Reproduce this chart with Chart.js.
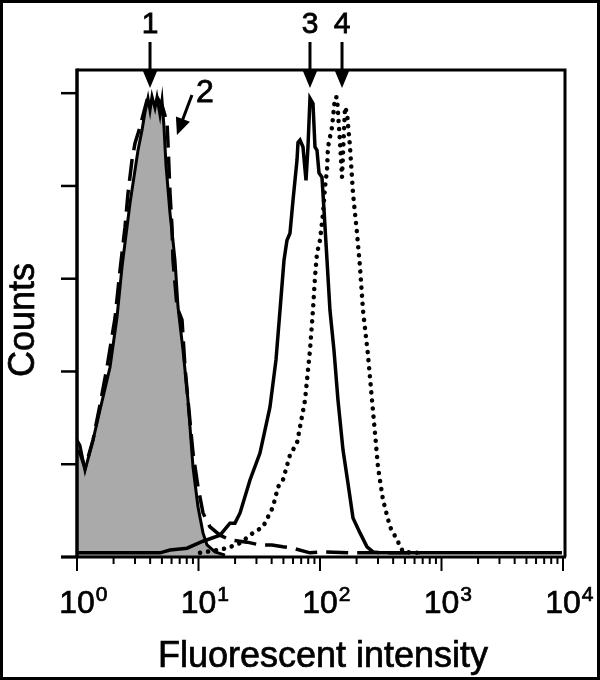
<!DOCTYPE html>
<html>
<head>
<title>Fluorescent intensity histogram</title>
<script src="https://cdn.jsdelivr.net/npm/chart.js"></script>
<style>
  html, body { margin: 0; padding: 0; background: #fff; }
</style>
</head>
<body>
<canvas id="histChart" width="600" height="680"></canvas>
<script>
// histogram traces, x = fluorescent intensity, y = counts (% of max)
const filledX = [1, 1.058, 1.164, 1.354, 1.546, 1.869, 2.134, 2.346, 2.731, 3.178, 3.428, 3.628, 3.84, 3.99, 4.143, 4.385, 4.554, 4.822, 5.007, 5.2, 5.402, 5.828, 6.409, 6.783, 7.456, 8.196, 9.01, 9.905, 10.89, 11.75, 13.67, 16.52];
const filledY = [25.2, 24.1, 18.7, 25.2, 31.7, 40.9, 51.7, 62.5, 76.3, 87.7, 92.0, 95.9, 98.9, 96.3, 99.3, 96.8, 99.1, 95.3, 98.5, 92.7, 84.5, 74.1, 64.0, 53.9, 44.6, 33.8, 19.4, 10.8, 5.2, 2.6, 1.1, 0.4];

const dashedX = [1.039, 1.164, 1.354, 1.546, 1.766, 2.055, 2.259, 2.484, 2.629, 2.836, 3.002, 3.3, 3.768, 4.143, 4.554, 5.007, 5.505, 5.61, 5.828, 6.053, 6.168, 6.653, 7.316, 7.743, 8.196, 9.01, 9.905, 10.89, 12.43, 15.03, 18.16, 25.06, 32.06, 40.27, 49.56, 59.95, 82.7, 105.9, 176.6, 665];
const dashedY = [23.1, 19.2, 25.2, 32.8, 40.9, 51.5, 61.8, 71.1, 78.4, 85.6, 89.2, 92.7, 98.5, 99.1, 99.1, 97.4, 93.7, 89.2, 78.4, 71.1, 64.0, 53.9, 51.1, 40.9, 33.8, 22.4, 15.1, 9.5, 6.5, 4.7, 3.7, 3.2, 2.6, 2.6, 2.2, 1.9, 0.9, 1.1, 0.9, 0.9];

const solidX = [1, 4.822, 5.828, 8.041, 10.89, 15.03, 18.16, 19.95, 21.98, 26.54, 32.06, 38.73, 43.43, 46.86, 50.55, 53.48, 56.61, 59.95, 64.69, 65.92, 68.46, 72.46, 76.71, 79.62, 82.7, 87.55, 90.93, 94.47, 98.12, 103.8, 107.9, 114.2, 120.8, 130.3, 140.6, 154.6, 169.9, 186.9, 213.4, 243.6, 273.0, 311.6, 9800];
const solidY = [0.9, 0.9, 1.5, 1.9, 3.4, 4.7, 7.3, 7.3, 9.5, 16.6, 22.4, 32.3, 42.5, 53.2, 64.0, 68.3, 69.8, 76.9, 85.6, 89.4, 89.9, 88.4, 81.2, 88.4, 98.9, 97.8, 88.4, 87.7, 82.8, 81.9, 74.8, 64.0, 53.2, 44.6, 33.8, 23.1, 15.9, 8.4, 5.2, 2.2, 1.1, 0.9, 0.9];

const dottedX = [10.29, 14.2, 17.17, 21.98, 28.12, 33.95, 41.04, 45.11, 49.56, 56.61, 64.69, 75.27, 82.7, 87.55, 90.93, 94.47, 100, 105.9, 109.9, 114.2, 116.4, 125.6, 132.9, 138.0, 146.2, 151.8, 160.7, 166.9, 176.6, 186.9, 201.7, 213.4, 225.9, 248.4, 267.9, 283.6, 300.1, 330.0, 376.9, 430.3, 482.2, 665.3];
const dottedY = [0.9, 1.5, 1.9, 3.0, 5.2, 6.5, 10.8, 15.1, 16.6, 22.0, 24.6, 33.8, 44.6, 53.2, 60.3, 65.5, 68.3, 74.1, 79.7, 83.4, 88.4, 92.7, 99.1, 99.1, 89.2, 81.9, 97.0, 95.7, 88.4, 78.4, 69.8, 62.5, 53.2, 43.5, 33.8, 26.7, 19.4, 12.3, 6.5, 3.7, 1.1, 0.9];

// axes
const decades = [1, 10, 100, 1000, 10000];
const decadeExponents = ['0', '1', '2', '3', '4'];
const countTicks = [0, 20, 40, 60, 80, 100];

// peak markers (label, x value the arrow points at)
const peakLabels = ['1', '3', '4'];
const peakX = [3.99, 82.7, 151.8];
const dashedLabel = '2';
const dashedArrowAt = [6.4, 91];

function toPoints(xs, ys) {
    return xs.map((x, i) => ({ x: x, y: ys[i] }));
}

const FONT = '"Liberation Sans", Arial, Helvetica, sans-serif';

// text drawn with a thin outline so it reads as heavy as the scanned figure
function heavyText(ctx, text, x, y) {
    ctx.fillText(text, x, y);
    ctx.strokeText(text, x, y);
}

const axesPlugin = {
    id: 'axesPlugin',
    afterDraw(chart) {
        const ctx = chart.ctx;
        const a = chart.chartArea;
        const xs = chart.scales.x;
        const ys = chart.scales.y;
        const y0 = ys.getPixelForValue(0);
        const left = xs.getPixelForValue(1);
        const right = xs.getPixelForValue(10000) + 2;

        ctx.save();
        ctx.strokeStyle = '#000';
        ctx.fillStyle = '#000';

        // picture border
        ctx.lineWidth = 3;
        ctx.strokeRect(1.5, 1.5, chart.width - 3, chart.height - 3);

        // frame top + right
        ctx.lineWidth = 3;
        ctx.beginPath();
        ctx.moveTo(left, a.top);
        ctx.lineTo(right, a.top);
        ctx.lineTo(right, y0);
        ctx.stroke();

        // y axis
        ctx.lineWidth = 3.5;
        ctx.beginPath();
        ctx.moveTo(left, a.top - 1.5);
        ctx.lineTo(left, y0);
        ctx.stroke();

        // x axis
        ctx.lineWidth = 3;
        ctx.beginPath();
        ctx.moveTo(left - 16, y0);
        ctx.lineTo(right + 1, y0);
        ctx.stroke();

        // y ticks
        ctx.lineWidth = 2.5;
        countTicks.forEach(v => {
            const py = ys.getPixelForValue(v);
            ctx.beginPath();
            ctx.moveTo(left - 16, py);
            ctx.lineTo(left, py);
            ctx.stroke();
        });

        // x ticks, major and minor
        ctx.lineWidth = 2;
        decades.forEach((d, i) => {
            const px = xs.getPixelForValue(d);
            ctx.beginPath();
            ctx.moveTo(px, y0);
            ctx.lineTo(px, y0 + 14);
            ctx.stroke();
            if (i < decades.length - 1) {
                for (let m = 2; m <= 9; m++) {
                    const pm = xs.getPixelForValue(d * m);
                    ctx.beginPath();
                    ctx.moveTo(pm, y0);
                    ctx.lineTo(pm, y0 + 7);
                    ctx.stroke();
                }
            }
        });

        // x tick labels 10^n
        ctx.lineWidth = 0.7;
        decades.forEach((d, i) => {
            const px = xs.getPixelForValue(d);
            ctx.font = '32px ' + FONT;
            ctx.textAlign = 'center';
            ctx.textBaseline = 'alphabetic';
            heavyText(ctx, '10', px, y0 + 56);
            const w = ctx.measureText('10').width;
            ctx.font = '21px ' + FONT;
            ctx.textAlign = 'left';
            heavyText(ctx, decadeExponents[i], px + w / 2 + 1, y0 + 44);
        });

        // axis titles
        ctx.font = '36px ' + FONT;
        ctx.textAlign = 'center';
        heavyText(ctx, 'Fluorescent intensity', (left + right) / 2 + 2, 667);
        ctx.save();
        ctx.translate(34, 320);
        ctx.rotate(-Math.PI / 2);
        heavyText(ctx, 'Counts', 0, 0);
        ctx.restore();

        // peak arrows
        peakLabels.forEach((lab, i) => {
            const px = xs.getPixelForValue(peakX[i]);
            ctx.font = '30px ' + FONT;
            ctx.lineWidth = 0.8;
            heavyText(ctx, lab, px, 33);
            ctx.lineWidth = 3;
            ctx.beginPath();
            ctx.moveTo(px, 42);
            ctx.lineTo(px, a.top + 4);
            ctx.stroke();
            ctx.beginPath();
            ctx.moveTo(px - 7.5, a.top);
            ctx.lineTo(px + 7.5, a.top);
            ctx.lineTo(px, a.top + 18);
            ctx.closePath();
            ctx.fill();
        });

        // arrow 2, pointing at the dashed trace
        const tx = xs.getPixelForValue(dashedArrowAt[0]) + 2;
        const ty = ys.getPixelForValue(dashedArrowAt[1]);
        const sx = tx + 15, sy = ty - 40;
        const ang = Math.atan2(ty - sy, tx - sx);
        ctx.lineWidth = 3;
        ctx.beginPath();
        ctx.moveTo(sx, sy);
        ctx.lineTo(tx - 10 * Math.cos(ang), ty - 10 * Math.sin(ang));
        ctx.stroke();
        ctx.beginPath();
        ctx.moveTo(tx, ty);
        ctx.lineTo(tx - 17 * Math.cos(ang) + 7.5 * Math.sin(ang), ty - 17 * Math.sin(ang) - 7.5 * Math.cos(ang));
        ctx.lineTo(tx - 17 * Math.cos(ang) - 7.5 * Math.sin(ang), ty - 17 * Math.sin(ang) + 7.5 * Math.cos(ang));
        ctx.closePath();
        ctx.fill();
        ctx.font = '32px ' + FONT;
        ctx.lineWidth = 0.8;
        heavyText(ctx, dashedLabel, sx + 13, sy + 7);

        ctx.restore();
    }
};

const ctx = document.getElementById('histChart').getContext('2d');
const histChart = new Chart(ctx, {
    type: 'scatter',
    data: {
        datasets: [
            {
                label: '1',
                data: toPoints(filledX, filledY),
                showLine: true,
                borderColor: '#000',
                borderWidth: 3,
                backgroundColor: '#aaaaaa',
                fill: 'origin',
                order: 4
            },
            {
                label: '2',
                data: toPoints(dashedX, dashedY),
                showLine: true,
                borderColor: '#000',
                borderWidth: 3.5,
                borderDash: [22, 9],
                fill: false,
                order: 3
            },
            {
                label: '4',
                data: toPoints(dottedX, dottedY),
                showLine: true,
                borderColor: '#000',
                borderWidth: 4.5,
                borderDash: [0.1, 8],
                borderCapStyle: 'round',
                fill: false,
                order: 2
            },
            {
                label: '3',
                data: toPoints(solidX, solidY),
                showLine: true,
                borderColor: '#000',
                borderWidth: 3.5,
                fill: false,
                order: 1
            }
        ]
    },
    options: {
        responsive: false,
        animation: false,
        layout: {
            padding: { left: 77, right: 37, top: 70, bottom: 123 }
        },
        elements: {
            point: { radius: 0 },
            line: { tension: 0 }
        },
        plugins: {
            legend: { display: false },
            tooltip: { enabled: false }
        },
        scales: {
            x: { type: 'logarithmic', min: 1, max: 10000, display: false },
            y: { type: 'linear', min: 0, max: 105, display: false }
        }
    },
    plugins: [axesPlugin]
});
</script>
</body>
</html>
